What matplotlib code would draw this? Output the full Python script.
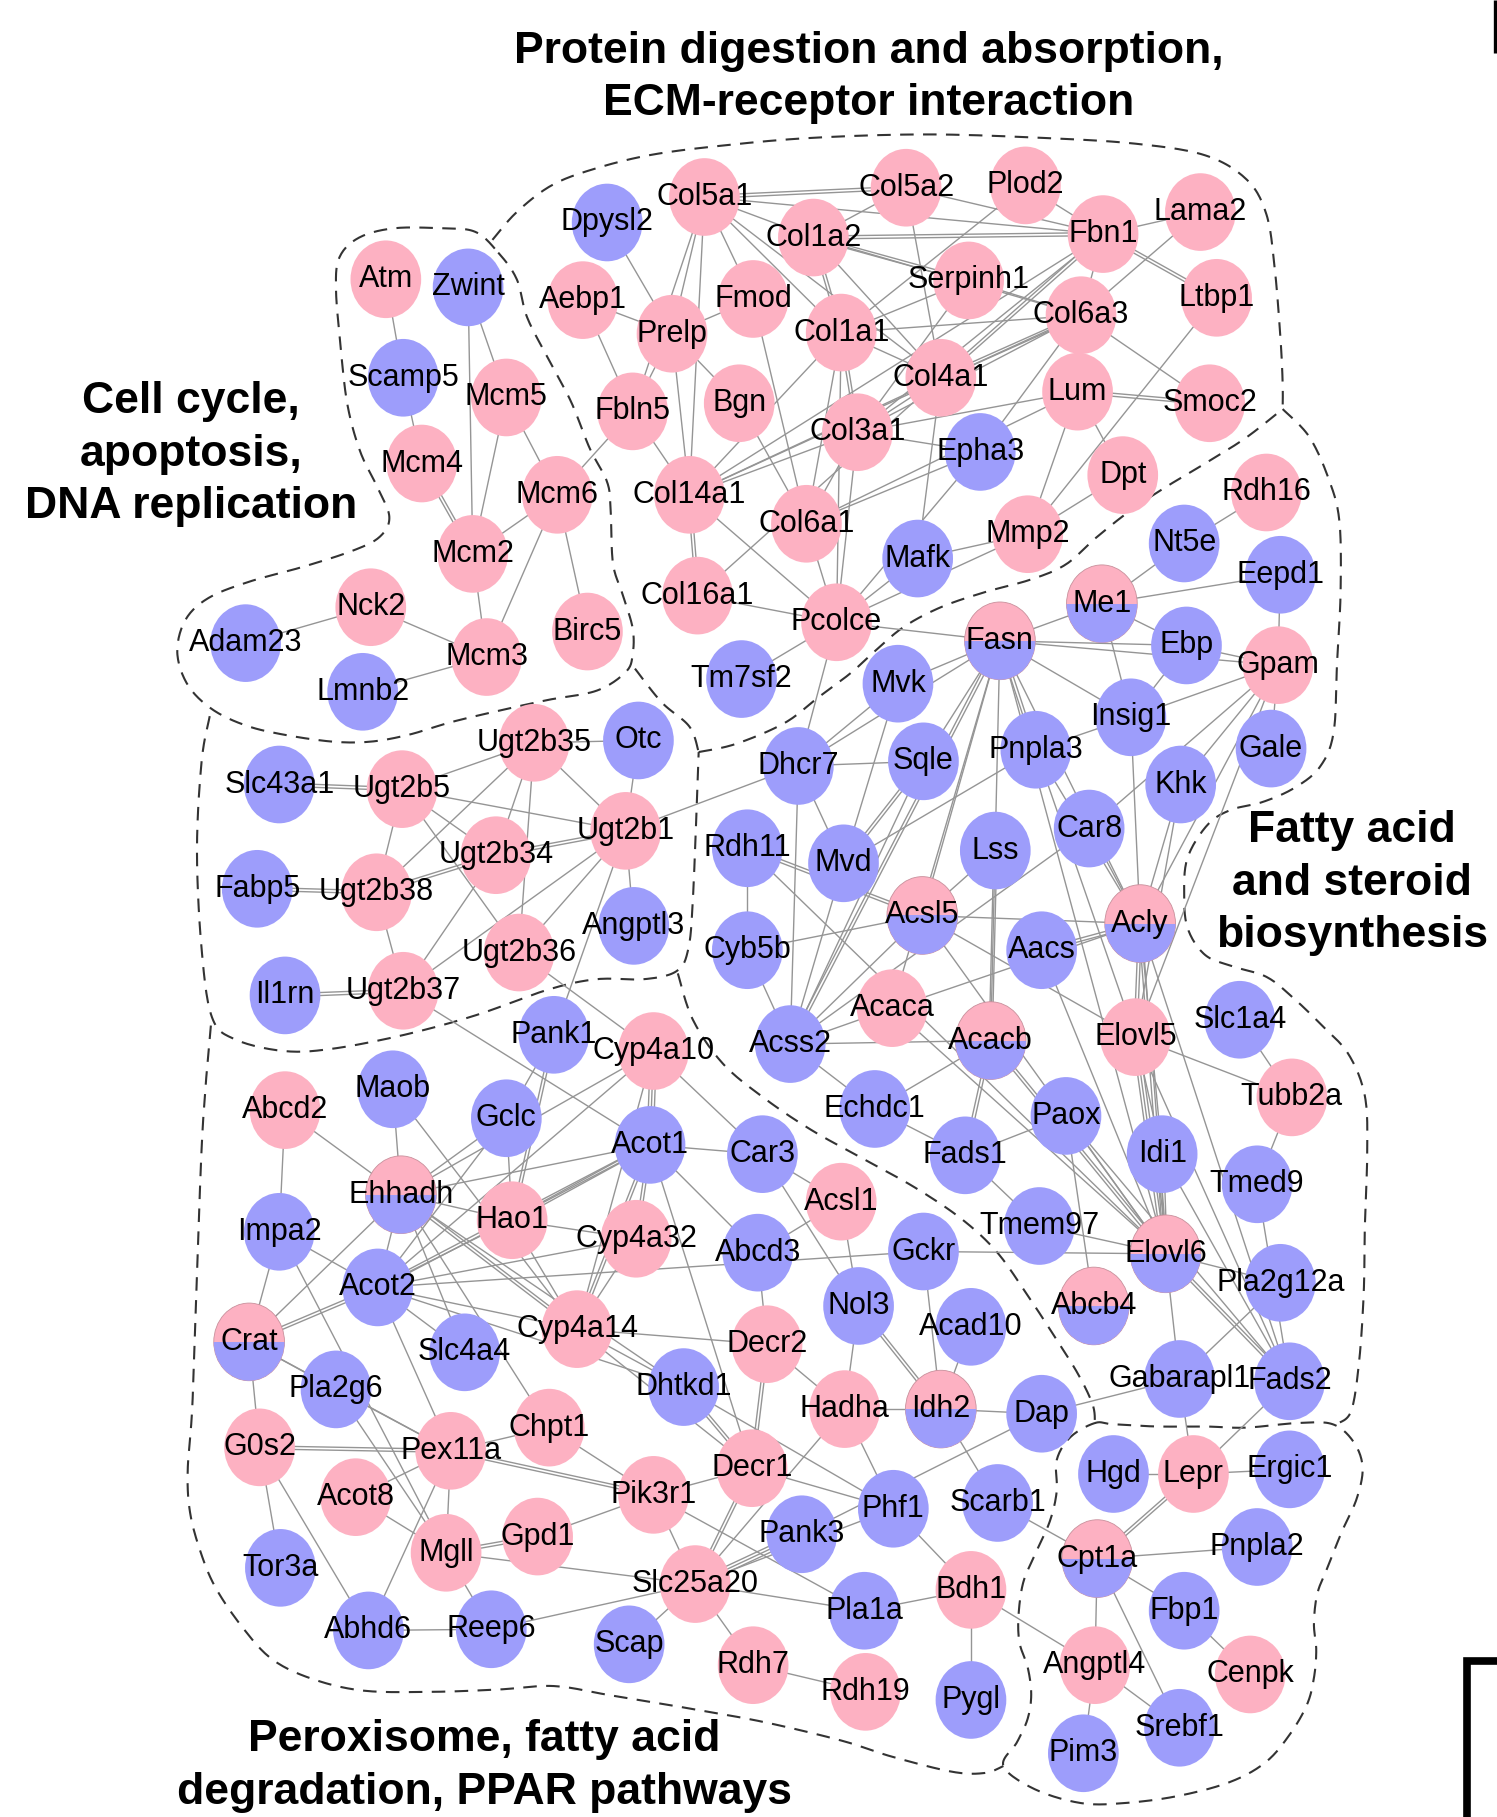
import numpy as np
import matplotlib
matplotlib.use("Agg")
import matplotlib.pyplot as plt
from matplotlib.patches import Ellipse, Rectangle

# ---------------------------------------------------------------- data
# regulation status of every gene: up (pink), down (blue), mixed (both)
genes_up = ["Atm", "Mcm5", "Mcm4", "Mcm6", "Mcm2", "Nck2", "Mcm3", "Birc5",
            "Col5a1", "Col5a2", "Plod2", "Col1a2", "Fbn1", "Lama2", "Aebp1", "Fmod",
            "Prelp", "Serpinh1", "Col6a3", "Ltbp1", "Col1a1", "Col4a1", "Lum", "Smoc2",
            "Fbln5", "Bgn", "Col3a1", "Dpt", "Col14a1", "Col6a1", "Mmp2", "Col16a1",
            "Pcolce", "Rdh16", "Gpam", "Acaca", "Elovl5", "Tubb2a",
            "Ugt2b35", "Ugt2b5", "Ugt2b1", "Ugt2b34", "Ugt2b38", "Ugt2b36", "Ugt2b37",
            "Cyp4a10", "Abcd2", "Acsl1", "Hao1", "Cyp4a32", "Cyp4a14", "Decr2", "Hadha",
            "G0s2", "Pex11a", "Chpt1", "Decr1", "Acot8", "Pik3r1", "Mgll", "Gpd1",
            "Slc25a20", "Bdh1", "Rdh7", "Rdh19", "Lepr", "Angptl4", "Cenpk"]
genes_down = ["Zwint", "Scamp5", "Adam23", "Lmnb2", "Dpysl2", "Epha3", "Mafk",
              "Nt5e", "Eepd1", "Ebp", "Tm7sf2", "Mvk", "Insig1", "Dhcr7", "Sqle",
              "Pnpla3", "Gale", "Khk", "Car8", "Rdh11", "Mvd", "Lss", "Aacs", "Cyb5b",
              "Acss2", "Slc1a4", "Echdc1", "Paox", "Fads1", "Idi1", "Tmed9", "Tmem97",
              "Pla2g12a", "Gabarapl1", "Fads2", "Slc43a1", "Otc", "Fabp5", "Angptl3",
              "Il1rn", "Pank1", "Maob", "Gclc", "Acot1", "Car3", "Impa2", "Abcd3",
              "Gckr", "Acot2", "Nol3", "Acad10", "Slc4a4", "Pla2g6", "Dhtkd1", "Dap",
              "Phf1", "Scarb1", "Pank3", "Tor3a", "Pla1a", "Abhd6", "Reep6", "Scap",
              "Pygl", "Hgd", "Ergic1", "Pnpla2", "Fbp1", "Srebf1", "Pim3"]
genes_mixed = ["Me1", "Fasn", "Acsl5", "Acly", "Acacb", "Elovl6", "Abcb4",
               "Ehhadh", "Crat", "Idh2", "Cpt1a"]

# interactions (gene A, gene B, number of evidence lines)
interactions = [
    ("Atm", "Scamp5", 1), ("Zwint", "Mcm2", 1), ("Zwint", "Mcm5", 1), ("Scamp5", "Mcm4", 1),
    ("Mcm4", "Mcm2", 2), ("Mcm5", "Mcm2", 1), ("Mcm5", "Mcm6", 1), ("Mcm6", "Mcm2", 1),
    ("Mcm6", "Mcm3", 1), ("Mcm6", "Birc5", 1), ("Mcm6", "Fbln5", 1), ("Mcm2", "Mcm3", 1),
    ("Nck2", "Adam23", 1), ("Nck2", "Mcm3", 1), ("Lmnb2", "Mcm3", 1),
    ("Col5a1", "Col5a2", 2), ("Col5a1", "Col1a2", 1), ("Col5a1", "Fbn1", 1),
    ("Col5a1", "Col1a1", 1), ("Col5a1", "Col4a1", 1), ("Col5a1", "Prelp", 1),
    ("Col5a1", "Fmod", 1), ("Col5a1", "Fbln5", 1), ("Col5a1", "Col14a1", 1),
    ("Dpysl2", "Prelp", 1), ("Aebp1", "Prelp", 1), ("Aebp1", "Fbln5", 1),
    ("Prelp", "Fmod", 1), ("Prelp", "Fbln5", 1), ("Prelp", "Bgn", 1), ("Prelp", "Col14a1", 1),
    ("Fbln5", "Col14a1", 1), ("Fmod", "Col6a1", 1), ("Bgn", "Col6a1", 1),
    ("Col1a2", "Col5a2", 1), ("Col1a2", "Fbn1", 2), ("Col1a2", "Serpinh1", 2),
    ("Col1a2", "Col6a3", 1), ("Col1a2", "Col1a1", 2), ("Col1a2", "Col4a1", 1),
    ("Col5a2", "Fbn1", 1), ("Col5a2", "Col4a1", 1), ("Plod2", "Fbn1", 1), ("Plod2", "Col1a1", 1),
    ("Fbn1", "Lama2", 1), ("Fbn1", "Ltbp1", 2), ("Fbn1", "Col6a3", 1), ("Fbn1", "Col4a1", 2),
    ("Fbn1", "Col3a1", 1), ("Fbn1", "Col14a1", 1), ("Lama2", "Col6a3", 1),
    ("Serpinh1", "Col1a1", 1), ("Serpinh1", "Col6a3", 1), ("Serpinh1", "Col3a1", 1),
    ("Col6a3", "Col1a1", 1), ("Col6a3", "Col4a1", 2), ("Col6a3", "Smoc2", 1),
    ("Col6a3", "Lum", 1), ("Col6a3", "Col14a1", 1), ("Col6a3", "Col3a1", 1),
    ("Col6a3", "Epha3", 1), ("Ltbp1", "Mmp2", 1), ("Lum", "Smoc2", 2), ("Lum", "Dpt", 1),
    ("Lum", "Mmp2", 1), ("Lum", "Col3a1", 1), ("Lum", "Col6a1", 1),
    ("Col1a1", "Col4a1", 1), ("Col1a1", "Col3a1", 2), ("Col1a1", "Col6a1", 1),
    ("Col1a1", "Col14a1", 1), ("Col1a1", "Pcolce", 1), ("Col4a1", "Col3a1", 1),
    ("Col4a1", "Col14a1", 1), ("Col4a1", "Mafk", 1), ("Col4a1", "Col16a1", 1),
    ("Col3a1", "Epha3", 1), ("Col3a1", "Col6a1", 1), ("Col3a1", "Pcolce", 1),
    ("Col3a1", "Col14a1", 1), ("Col14a1", "Col16a1", 2), ("Col14a1", "Pcolce", 1),
    ("Col6a1", "Pcolce", 1), ("Col16a1", "Pcolce", 1), ("Pcolce", "Mafk", 1),
    ("Pcolce", "Fasn", 1), ("Pcolce", "Tm7sf2", 1), ("Pcolce", "Epha3", 1),
    ("Pcolce", "Dhcr7", 1), ("Pcolce", "Mmp2", 1), ("Mafk", "Mmp2", 1), ("Mmp2", "Dpt", 1),
    ("Col6a1", "Epha3", 1),
    ("Me1", "Nt5e", 1), ("Me1", "Eepd1", 1), ("Me1", "Fasn", 1), ("Me1", "Ebp", 1),
    ("Me1", "Insig1", 1), ("Nt5e", "Rdh16", 1), ("Eepd1", "Gpam", 1), ("Fasn", "Ebp", 1),
    ("Fasn", "Gpam", 1), ("Fasn", "Insig1", 1), ("Fasn", "Mvk", 1), ("Fasn", "Dhcr7", 1),
    ("Fasn", "Sqle", 1), ("Fasn", "Acss2", 2), ("Fasn", "Acsl5", 1), ("Fasn", "Pnpla3", 2),
    ("Fasn", "Acly", 1), ("Fasn", "Acacb", 1), ("Fasn", "Elovl6", 1), ("Ebp", "Gpam", 1),
    ("Ebp", "Insig1", 1), ("Gpam", "Insig1", 1), ("Gpam", "Gale", 1), ("Gpam", "Khk", 1),
    ("Gpam", "Car8", 1), ("Gpam", "Acly", 1), ("Gpam", "Elovl5", 1), ("Insig1", "Pnpla3", 1),
    ("Insig1", "Acly", 1), ("Mvk", "Dhcr7", 1), ("Mvk", "Mvd", 1), ("Dhcr7", "Sqle", 1),
    ("Dhcr7", "Mvd", 1), ("Dhcr7", "Acss2", 1), ("Dhcr7", "Ugt2b1", 1), ("Sqle", "Acss2", 1),
    ("Sqle", "Mvd", 2), ("Pnpla3", "Mvd", 1), ("Pnpla3", "Acly", 1), ("Pnpla3", "Elovl5", 1),
    ("Khk", "Acly", 1), ("Khk", "Elovl5", 1), ("Car8", "Acss2", 1), ("Car8", "Acly", 1),
    ("Lss", "Acsl5", 1), ("Lss", "Acacb", 2), ("Rdh11", "Cyb5b", 1), ("Rdh11", "Acsl5", 2),
    ("Rdh11", "Elovl6", 1), ("Mvd", "Acss2", 1), ("Acsl5", "Acly", 1), ("Acsl5", "Cyb5b", 1),
    ("Acsl5", "Acss2", 1), ("Acsl5", "Elovl5", 1), ("Acsl5", "Elovl6", 1), ("Aacs", "Acly", 2),
    ("Aacs", "Elovl6", 1), ("Acly", "Acaca", 1), ("Acly", "Elovl5", 2), ("Acly", "Elovl6", 2),
    ("Acly", "Fads2", 1), ("Acly", "Idi1", 1), ("Cyb5b", "Acss2", 1), ("Acaca", "Acss2", 1),
    ("Acaca", "Fasn", 1), ("Acss2", "Acacb", 1), ("Acss2", "Echdc1", 1), ("Acacb", "Fads1", 2),
    ("Acacb", "Elovl6", 2), ("Acacb", "Echdc1", 1), ("Elovl5", "Tubb2a", 1), ("Elovl5", "Idi1", 1),
    ("Elovl5", "Elovl6", 3), ("Elovl5", "Fads2", 1), ("Slc1a4", "Tubb2a", 1),
    ("Tubb2a", "Tmed9", 1), ("Tmed9", "Fads2", 1), ("Paox", "Elovl6", 1), ("Paox", "Fads1", 1),
    ("Paox", "Abcb4", 1), ("Paox", "Fads2", 1), ("Fads1", "Tmem97", 1), ("Fads1", "Echdc1", 1),
    ("Idi1", "Elovl6", 2), ("Idi1", "Fads2", 1), ("Tmem97", "Elovl6", 1), ("Elovl6", "Gckr", 1),
    ("Elovl6", "Gabarapl1", 1), ("Elovl6", "Fads2", 2), ("Elovl6", "Pla2g12a", 1),
    ("Gabarapl1", "Pla2g12a", 1), ("Gabarapl1", "Lepr", 1), ("Gabarapl1", "Dap", 1),
    ("Fads2", "Lepr", 1), ("Acaca", "Elovl6", 1),
    ("Slc43a1", "Ugt2b5", 2), ("Ugt2b5", "Ugt2b35", 1), ("Ugt2b5", "Ugt2b1", 1),
    ("Ugt2b5", "Ugt2b38", 1), ("Ugt2b5", "Ugt2b34", 1), ("Ugt2b5", "Ugt2b36", 1),
    ("Ugt2b35", "Otc", 1), ("Ugt2b35", "Ugt2b1", 1), ("Ugt2b35", "Ugt2b34", 1),
    ("Ugt2b35", "Ugt2b36", 1), ("Ugt2b35", "Ugt2b38", 1), ("Otc", "Ugt2b1", 1),
    ("Ugt2b1", "Ugt2b34", 2), ("Ugt2b1", "Angptl3", 1), ("Ugt2b1", "Ugt2b36", 1),
    ("Ugt2b1", "Ugt2b37", 1), ("Ugt2b1", "Pank1", 1), ("Fabp5", "Ugt2b38", 2),
    ("Ugt2b38", "Ugt2b34", 2), ("Ugt2b38", "Ugt2b37", 1), ("Ugt2b34", "Ugt2b37", 1),
    ("Il1rn", "Ugt2b37", 2), ("Ugt2b37", "Acot1", 1), ("Ugt2b36", "Cyp4a10", 1),
    ("Pank1", "Gclc", 1), ("Pank1", "Hao1", 2), ("Cyp4a10", "Acot1", 3), ("Cyp4a10", "Ehhadh", 1),
    ("Cyp4a10", "Acot2", 1), ("Cyp4a10", "Car3", 1), ("Cyp4a10", "Cyp4a14", 1),
    ("Abcd2", "Ehhadh", 1), ("Abcd2", "Impa2", 1), ("Maob", "Ehhadh", 1), ("Maob", "Cyp4a14", 1),
    ("Gclc", "Ehhadh", 1), ("Gclc", "Hao1", 1), ("Gclc", "Acot2", 1), ("Acot1", "Ehhadh", 1),
    ("Acot1", "Hao1", 2), ("Acot1", "Acot2", 2), ("Acot1", "Car3", 1), ("Acot1", "Cyp4a32", 2),
    ("Acot1", "Cyp4a14", 2), ("Acot1", "Abcd3", 1), ("Acot1", "Decr1", 1), ("Car3", "Acsl1", 1),
    ("Car3", "Nol3", 1), ("Ehhadh", "Hao1", 1), ("Ehhadh", "Acot2", 1), ("Ehhadh", "Crat", 1),
    ("Ehhadh", "Cyp4a14", 2), ("Ehhadh", "Slc4a4", 1), ("Ehhadh", "Chpt1", 1),
    ("Ehhadh", "Dhtkd1", 1), ("Acsl1", "Abcd3", 1), ("Acsl1", "Nol3", 1), ("Impa2", "Crat", 1),
    ("Impa2", "Acot2", 1), ("Impa2", "Mgll", 1), ("Hao1", "Cyp4a32", 1), ("Hao1", "Acot2", 1),
    ("Hao1", "Cyp4a14", 1), ("Cyp4a32", "Acot2", 1), ("Cyp4a32", "Cyp4a14", 1),
    ("Abcd3", "Decr2", 1), ("Acot2", "Gckr", 1), ("Acot2", "Crat", 2), ("Acot2", "Cyp4a14", 1),
    ("Acot2", "Slc4a4", 1), ("Acot2", "Pex11a", 1), ("Acot2", "Dhtkd1", 1),
    ("Crat", "Pla2g6", 1), ("Crat", "G0s2", 1), ("Crat", "Pex11a", 1),
    ("Cyp4a14", "Dhtkd1", 1), ("Cyp4a14", "Decr2", 1), ("Cyp4a14", "Decr1", 1),
    ("Decr2", "Hadha", 1), ("Decr2", "Decr1", 2), ("Nol3", "Idh2", 2), ("Nol3", "Hadha", 1),
    ("Gckr", "Idh2", 1), ("Acad10", "Idh2", 1), ("Hadha", "Idh2", 1), ("Hadha", "Phf1", 1),
    ("Hadha", "Slc25a20", 1), ("Idh2", "Dap", 1), ("Idh2", "Scarb1", 1), ("Dap", "Pank3", 1),
    ("Dhtkd1", "Decr1", 2), ("Dhtkd1", "Phf1", 1), ("Pla2g6", "Pex11a", 1),
    ("Pla2g6", "Mgll", 1), ("G0s2", "Pex11a", 2), ("G0s2", "Tor3a", 1), ("G0s2", "Abhd6", 1),
    ("Pex11a", "Chpt1", 1), ("Pex11a", "Acot8", 1), ("Pex11a", "Mgll", 1),
    ("Pex11a", "Pik3r1", 2), ("Pex11a", "Abhd6", 1), ("Chpt1", "Pik3r1", 1),
    ("Acot8", "Mgll", 1), ("Mgll", "Gpd1", 2), ("Mgll", "Slc25a20", 1), ("Mgll", "Reep6", 1),
    ("Gpd1", "Pik3r1", 1), ("Pik3r1", "Decr1", 1), ("Pik3r1", "Slc25a20", 1),
    ("Pik3r1", "Pla1a", 1), ("Decr1", "Slc25a20", 2), ("Decr1", "Phf1", 1),
    ("Slc25a20", "Pank3", 3), ("Slc25a20", "Phf1", 1), ("Slc25a20", "Pla1a", 1),
    ("Slc25a20", "Scap", 1), ("Slc25a20", "Rdh7", 1), ("Slc25a20", "Reep6", 1),
    ("Abhd6", "Reep6", 1), ("Rdh7", "Rdh19", 1), ("Phf1", "Bdh1", 1), ("Pla1a", "Bdh1", 1),
    ("Bdh1", "Pygl", 1), ("Bdh1", "Angptl4", 1), ("Scarb1", "Cpt1a", 1),
    ("Hgd", "Lepr", 1), ("Lepr", "Ergic1", 1), ("Lepr", "Cpt1a", 2), ("Cpt1a", "Pnpla2", 1),
    ("Cpt1a", "Fbp1", 1), ("Cpt1a", "Angptl4", 1), ("Cpt1a", "Srebf1", 1),
    ("Fbp1", "Cenpk", 1), ("Angptl4", "Srebf1", 1), ("Angptl4", "Pim3", 1),
]

module_titles = ["Protein digestion and absorption,\nECM-receptor interaction",
                 "Cell cycle,\napoptosis,\nDNA replication",
                 "Fatty acid\nand steroid\nbiosynthesis",
                 "Peroxisome, fatty acid\ndegradation, PPAR pathways"]

# ---------------------------------------------------------------- layout (canvas units)
layout = {
    "Atm": (333, 241), "Zwint": (404, 248), "Scamp5": (348, 326), "Mcm5": (437, 343),
    "Mcm4": (364, 400), "Mcm6": (481, 427), "Mcm2": (408, 478), "Nck2": (320, 524),
    "Adam23": (212, 555), "Mcm3": (420, 567), "Lmnb2": (313, 597), "Birc5": (507, 545),
    "Dpysl2": (524, 192), "Col5a1": (608, 170), "Col5a2": (782, 162), "Plod2": (885, 160),
    "Col1a2": (702, 205), "Fbn1": (952, 202), "Lama2": (1036, 183), "Aebp1": (503, 259),
    "Fmod": (650, 258), "Prelp": (580, 288), "Serpinh1": (836, 242), "Col6a3": (933, 272),
    "Ltbp1": (1050, 257), "Col1a1": (726, 287), "Col4a1": (812, 326), "Lum": (930, 338),
    "Smoc2": (1044, 348), "Fbln5": (546, 355), "Bgn": (638, 348), "Col3a1": (740, 373),
    "Epha3": (846, 390), "Dpt": (969, 410), "Col14a1": (595, 427), "Col6a1": (696, 452),
    "Mafk": (792, 482), "Mmp2": (887, 461), "Col16a1": (602, 514), "Pcolce": (722, 537),
    "Rdh16": (1093, 425), "Nt5e": (1022, 469), "Eepd1": (1105, 496), "Me1": (951, 521),
    "Fasn": (863, 553), "Ebp": (1024, 557), "Gpam": (1103, 574), "Tm7sf2": (640, 586),
    "Mvk": (775, 590), "Insig1": (976, 619), "Dhcr7": (689, 661), "Sqle": (797, 657),
    "Pnpla3": (894, 647), "Gale": (1097, 646), "Khk": (1019, 677), "Car8": (940, 715),
    "Rdh11": (645, 732), "Mvd": (728, 745), "Lss": (859, 734), "Acsl5": (796, 790),
    "Acly": (984, 797), "Aacs": (899, 820), "Cyb5b": (645, 820), "Acaca": (770, 870),
    "Acss2": (682, 901), "Acacb": (855, 898), "Elovl5": (980, 895), "Slc1a4": (1070, 880),
    "Tubb2a": (1115, 947), "Echdc1": (755, 957), "Paox": (920, 963), "Fads1": (833, 997),
    "Idi1": (1003, 996), "Tmed9": (1085, 1022), "Tmem97": (897, 1058), "Elovl6": (1006, 1082),
    "Abcb4": (944, 1127), "Pla2g12a": (1105, 1107), "Gabarapl1": (1018, 1190),
    "Fads2": (1113, 1192),
    "Slc43a1": (241, 677), "Ugt2b5": (347, 681), "Ugt2b35": (461, 641), "Otc": (551, 639),
    "Ugt2b1": (540, 717), "Ugt2b34": (428, 738), "Fabp5": (222, 767), "Ugt2b38": (325, 770),
    "Angptl3": (547, 799), "Ugt2b36": (448, 822), "Il1rn": (246, 859), "Ugt2b37": (348, 855),
    "Pank1": (478, 893), "Cyp4a10": (564, 907), "Abcd2": (246, 958), "Maob": (339, 940),
    "Gclc": (437, 965), "Acot1": (561, 988), "Car3": (658, 996), "Ehhadh": (346, 1031),
    "Acsl1": (726, 1037), "Impa2": (241, 1063), "Hao1": (442, 1053), "Cyp4a32": (549, 1069),
    "Abcd3": (654, 1081), "Gckr": (797, 1080), "Acot2": (326, 1111), "Nol3": (741, 1127),
    "Acad10": (838, 1145), "Crat": (215, 1158), "Cyp4a14": (498, 1147), "Slc4a4": (401, 1167),
    "Decr2": (662, 1160), "Pla2g6": (290, 1199), "Dhtkd1": (590, 1197), "Hadha": (729, 1216),
    "Idh2": (812, 1216), "Dap": (899, 1220), "G0s2": (224, 1249), "Pex11a": (389, 1252),
    "Chpt1": (474, 1232), "Decr1": (649, 1267), "Acot8": (307, 1292), "Pik3r1": (564, 1290),
    "Phf1": (771, 1302), "Scarb1": (861, 1297), "Mgll": (385, 1340), "Gpd1": (464, 1326),
    "Pank3": (692, 1324), "Tor3a": (242, 1353), "Slc25a20": (600, 1367), "Bdh1": (838, 1372),
    "Pla1a": (746, 1390), "Abhd6": (318, 1407), "Reep6": (424, 1406), "Scap": (543, 1419),
    "Rdh7": (650, 1437), "Rdh19": (747, 1460), "Pygl": (838, 1467),
    "Hgd": (961, 1272), "Lepr": (1030, 1272), "Ergic1": (1113, 1268), "Cpt1a": (947, 1345),
    "Pnpla2": (1085, 1335), "Fbp1": (1022, 1390), "Angptl4": (945, 1437), "Cenpk": (1079, 1445),
    "Srebf1": (1018, 1491), "Pim3": (935, 1513),
}

title_anchor = [(750, 67), (165, 392), (1167, 762), (418, 1524)]

# dashed module outlines
outline_cell_cycle = [(430, 218), (446, 241), (455, 274), (474, 311), (493, 347), (509, 387),
                      (524, 416), (527, 440), (529, 486), (537, 512), (546, 542), (546, 565),
                      (540, 580), (515, 596), (473, 604), (432, 613), (390, 623), (353, 634),
                      (320, 640), (287, 640), (245, 634), (212, 626), (183, 612), (162, 591),
                      (153, 563), (160, 535), (180, 516), (215, 502), (262, 489), (305, 475),
                      (328, 463), (336, 446), (326, 421), (311, 390), (300, 350), (294, 300),
                      (290, 250), (293, 222), (310, 205), (340, 197), (380, 197), (410, 200)]
outline_protein = [(425, 207), (446, 183), (476, 160), (512, 146), (560, 134), (620, 126),
                   (700, 119), (800, 116), (900, 119), (980, 124), (1040, 134), (1076, 155),
                   (1093, 185), (1100, 230), (1105, 290), (1107, 330), (1107, 353)]
outline_fatty_top = [(603, 649), (635, 642), (677, 624), (706, 602), (734, 581), (755, 562),
                     (780, 541), (812, 524), (850, 511), (890, 500), (920, 487), (946, 464),
                     (975, 441), (1005, 421), (1040, 400), (1075, 378), (1107, 353)]
outline_fatty_right = [(1107, 353), (1130, 377), (1147, 414), (1156, 450), (1157, 511),
                       (1154, 571), (1151, 632), (1139, 662), (1117, 680), (1090, 692),
                       (1062, 699), (1042, 712), (1025, 740), (1022, 771), (1025, 801),
                       (1040, 824), (1064, 834), (1093, 843), (1116, 861), (1141, 885),
                       (1164, 910), (1178, 946), (1180, 994), (1178, 1055), (1177, 1115),
                       (1173, 1175), (1166, 1218), (1153, 1229)]
outline_junction = [(548, 577), (571, 606), (595, 627), (603, 649)]
outline_ugt = [(181, 618), (174, 657), (170, 734), (174, 819), (183, 878), (203, 897),
               (245, 907), (287, 905), (349, 893), (411, 876), (473, 854), (515, 845),
               (556, 845), (584, 838), (594, 819), (598, 776), (602, 677), (603, 649)]
outline_perox_right = [(585, 840), (598, 880), (624, 918), (660, 948), (700, 975),
                       (745, 1000), (790, 1025), (830, 1052), (860, 1080), (885, 1115),
                       (908, 1150), (930, 1185), (943, 1212), (945, 1228)]
outline_perox_left = [(182, 885), (178, 930), (174, 991), (170, 1100), (166, 1213),
                      (162, 1269), (164, 1305), (173, 1339), (186, 1370), (209, 1404),
                      (235, 1432), (270, 1449), (314, 1459), (372, 1460), (430, 1458),
                      (478, 1455), (527, 1463), (593, 1474), (659, 1486), (726, 1502),
                      (770, 1516), (822, 1529), (850, 1530), (866, 1524)]
outline_lipid = [(945, 1228), (960, 1229), (998, 1231), (1040, 1231), (1075, 1232),
                 (1120, 1228), (1150, 1229), (1168, 1244), (1176, 1266), (1171, 1293),
                 (1158, 1322), (1146, 1352), (1137, 1375), (1134, 1401), (1136, 1424),
                 (1134, 1448), (1128, 1471), (1113, 1497), (1092, 1521), (1061, 1538),
                 (1016, 1550), (970, 1556), (933, 1556), (893, 1544), (866, 1524),
                 (878, 1503), (887, 1483), (890, 1462), (887, 1439), (880, 1418),
                 (879, 1395), (883, 1366), (893, 1342), (906, 1313), (912, 1287),
                 (912, 1260), (924, 1240)]

# ---------------------------------------------------------------- styling
PINK = "#FDB1C2"
BLUE = "#9D9DFB"
EDGE = "#959595"
NODE_W, NODE_H = 61, 67
LABEL_FONT = "Liberation Sans"

W_PX, H_PX = 1497, 1817
CANVAS_W, CANVAS_H = 1292, 1568

fig = plt.figure(figsize=(W_PX / 100, H_PX / 100), dpi=100)
ax = fig.add_axes([0, 0, 1, 1])
ax.set_xlim(0, CANVAS_W)
ax.set_ylim(CANVAS_H, 0)
ax.set_aspect("auto")
ax.axis("off")


def catmull_rom(points, closed=False, steps=14):
    P = np.asarray(points, float)
    if closed:
        P = np.vstack([P[-1], P, P[0], P[1]])
    else:
        P = np.vstack([P[0], P, P[-1]])
    t = np.linspace(0, 1, steps, endpoint=False)[:, None]
    out = []
    for i in range(1, len(P) - 2):
        p0, p1, p2, p3 = P[i - 1], P[i], P[i + 1], P[i + 2]
        seg = 0.5 * (2 * p1 + (-p0 + p2) * t + (2 * p0 - 5 * p1 + 4 * p2 - p3) * t ** 2
                     + (-p0 + 3 * p1 - 3 * p2 + p3) * t ** 3)
        out.append(seg)
    out.append(P[-2][None])
    return np.vstack(out)


dash = dict(color="#333333", lw=1.5, linestyle=(0, (6.5, 4.5)), zorder=0.5,
            dash_capstyle="butt")
for path, closed in [(outline_cell_cycle, True), (outline_protein, False),
                     (outline_fatty_top, False), (outline_fatty_right, False),
                     (outline_junction, False), (outline_ugt, False),
                     (outline_perox_right, False), (outline_perox_left, False),
                     (outline_lipid, True)]:
    c = catmull_rom(path, closed=closed)
    ax.plot(c[:, 0], c[:, 1], **dash)

# interaction lines (parallel strokes for multiple evidence lines)
for a, b, n in interactions:
    p = np.array(layout[a], float)
    q = np.array(layout[b], float)
    d = q - p
    nrm = np.array([-d[1], d[0]]) / np.hypot(*d)
    for k in range(n):
        off = (k - (n - 1) / 2) * 2.6
        ax.plot([p[0] + nrm[0] * off, q[0] + nrm[0] * off],
                [p[1] + nrm[1] * off, q[1] + nrm[1] * off],
                color=EDGE, lw=1.0, zorder=1, solid_capstyle="butt")

# gene nodes
status = {g: "up" for g in genes_up}
status.update({g: "down" for g in genes_down})
status.update({g: "mixed" for g in genes_mixed})
for g, (x, y) in layout.items():
    s = status[g]
    if s == "mixed":
        ax.add_patch(Ellipse((x, y), NODE_W, NODE_H, facecolor=PINK, edgecolor="#c9909c",
                             lw=0.6, zorder=2))
        lower = Ellipse((x, y), NODE_W, NODE_H, facecolor=BLUE, edgecolor="none", zorder=2.1)
        ax.add_patch(lower)
        clip = Rectangle((x - NODE_W, y), 2 * NODE_W, NODE_H, transform=ax.transData)
        lower.set_clip_path(clip)
    else:
        ax.add_patch(Ellipse((x, y), NODE_W, NODE_H,
                             facecolor=PINK if s == "up" else BLUE,
                             edgecolor="none", zorder=2))
    ax.text(x, y, g, ha="center", va="center", fontsize=22, family=LABEL_FONT,
            color="black", zorder=3)

# module titles
for txt, (x, y) in zip(module_titles, title_anchor):
    ax.text(x, y, txt, ha="center", va="center", fontsize=32, fontweight="bold",
            family=LABEL_FONT, linespacing=1.36, zorder=4)

# frame fragments at the right border
ax.plot([1290.5, 1290.5], [0, 46], color="black", lw=2.4, clip_on=False, solid_capstyle="butt")
ax.plot([1292, 1266, 1266], [1433, 1433, 1568], color="black", lw=5.5, clip_on=False,
        solid_joinstyle="miter", solid_capstyle="butt")

fig.savefig("out.png", dpi=100, facecolor="white")
